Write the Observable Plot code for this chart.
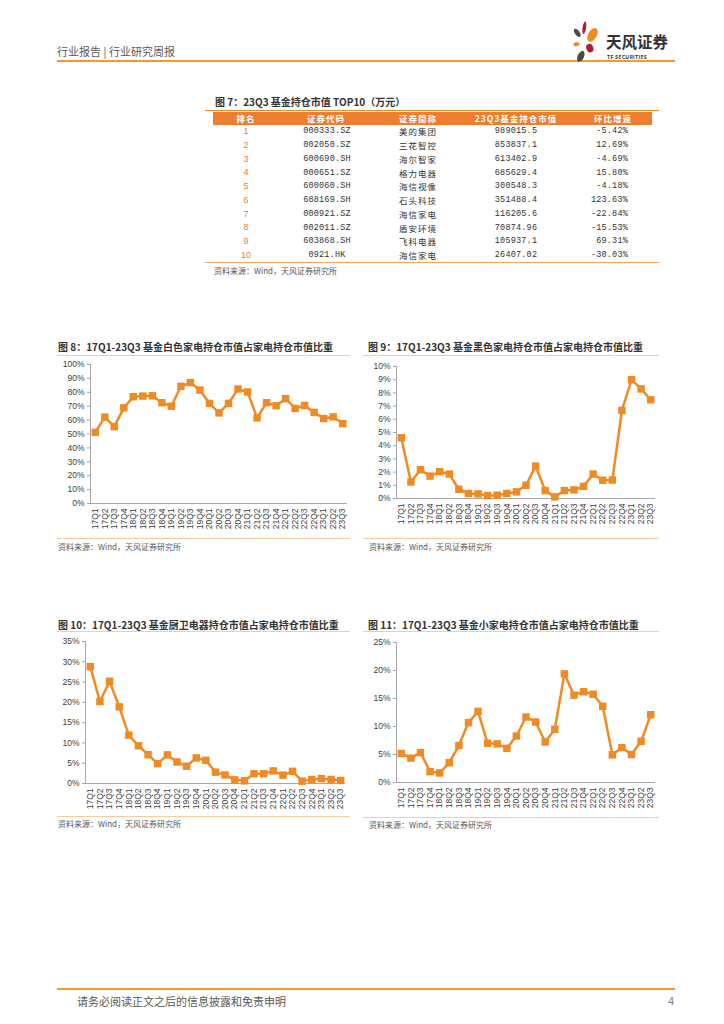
<!DOCTYPE html>
<html><head><meta charset="utf-8">
<script src="https://cdn.jsdelivr.net/npm/d3@7"></script>
<script src="https://cdn.jsdelivr.net/npm/@observablehq/plot@0.6"></script>
<style>
body{margin:0;background:#fff;}
#page{position:relative;width:724px;height:1024px;overflow:hidden;font-family:"Noto Sans CJK SC","Noto Sans",sans-serif;color:#333;background:#fff;}
.t{position:absolute;white-space:nowrap;line-height:1;}
.hl{position:absolute;}
.chart{position:absolute;}
</style></head><body><div id="page"></div>
<script>
// ---------- data ----------
const quarters = ["17Q1","17Q2","17Q3","17Q4","18Q1","18Q2","18Q3","18Q4","19Q1","19Q2","19Q3","19Q4","20Q1","20Q2","20Q3","20Q4","21Q1","21Q2","21Q3","21Q4","22Q1","22Q2","22Q3","22Q4","23Q1","23Q2","23Q3"];
const whiteShare = [51.2,62.1,55.3,68.8,76.8,77.3,77.5,72.5,70.0,84.3,87.0,81.6,72.0,65.2,72.0,82.4,80.2,61.6,72.5,70.3,75.4,68.4,70.5,65.5,61.1,62.3,57.5];
const blackShare = [4.6,1.25,2.18,1.7,2.03,1.85,0.7,0.38,0.35,0.22,0.25,0.38,0.5,1.0,2.45,0.6,0.12,0.6,0.65,0.92,1.85,1.38,1.4,6.67,9.0,8.3,7.48];
const kitchenShare = [28.8,20.2,25.2,18.9,11.9,9.3,7.1,4.9,7.05,5.3,4.26,6.3,5.7,2.8,2.1,0.9,0.65,2.4,2.4,3.1,2.05,3.0,0.57,1.0,1.2,1.0,0.75];
const smallShare = [5.18,4.35,5.35,1.94,1.7,3.53,6.6,10.7,12.7,7.0,6.9,6.1,8.3,11.7,10.8,7.24,9.5,19.4,15.6,16.2,15.76,13.6,4.94,6.24,5.0,7.35,12.1];

const tableHeaders = ["排名","证券代码","证券简称","23Q3基金持仓市值","环比增速"];
const ranks = ["1","2","3","4","5","6","7","8","9","10"];
const codes = ["000333.SZ","002050.SZ","600690.SH","000651.SZ","600060.SH","688169.SH","000921.SZ","002011.SZ","603868.SH","0921.HK"];
const names = ["美的集团","三花智控","海尔智家","格力电器","海信视像","石头科技","海信家电","盾安环境","飞科电器","海信家电"];
const holdValues = ["989015.5","853837.1","613402.9","685629.4","300548.3","351488.4","116205.6","70874.96","105937.1","26407.02"];
const growth = ["-5.42%","12.69%","-4.69%","15.80%","-4.18%","123.63%","-22.84%","-15.53%","69.31%","-30.03%"];

// ---------- helpers ----------
const ORANGE = "#F08A24";
const page = document.getElementById("page");
function put(text, x, y, o = {}) {
  const d = document.createElement("div");
  d.className = "t";
  d.textContent = text;
  const size = o.size || 10;
  d.style.fontSize = size + "px";
  d.style.left = x + "px";
  d.style.top = (y - size / 2) + "px";
  if (o.weight) d.style.fontWeight = o.weight;
  if (o.color) d.style.color = o.color;
  if (o.family) d.style.fontFamily = o.family;
  if (o.ls) d.style.letterSpacing = o.ls + "px";
  if (o.anchor === "middle") d.style.transform = "translateX(-50%)";
  if (o.anchor === "end") d.style.transform = "translateX(-100%)";
  page.appendChild(d);
  return d;
}
function hline(x1, x2, y, h, color) {
  const d = document.createElement("div");
  d.className = "hl";
  d.style.left = x1 + "px"; d.style.width = (x2 - x1) + "px";
  d.style.top = y + "px"; d.style.height = h + "px";
  d.style.background = color;
  page.appendChild(d);
}

// ---------- header ----------
put("行业报告 | 行业研究周报", 57, 51, {size: 11, color: "#595959"});
hline(57, 675, 60, 2, "#F39A2B");
const logo = document.createElement("div");
logo.className = "chart";
logo.style.left = "569px"; logo.style.top = "20px";
logo.innerHTML = `<svg width="33" height="43" viewBox="0 0 68 110">
<ellipse cx="13" cy="33" rx="6" ry="12" transform="rotate(-35 13 33)" fill="#4A4A4A"/>
<ellipse cx="31" cy="20" rx="4.5" ry="16" transform="rotate(8 31 20)" fill="#B5173A"/>
<ellipse cx="52" cy="38" rx="11" ry="19" transform="rotate(30 52 38)" fill="#F08A24"/>
<ellipse cx="11" cy="62" rx="8" ry="5" transform="rotate(-10 11 62)" fill="#F08A24"/>
<ellipse cx="45" cy="72" rx="9" ry="11" transform="rotate(-20 45 72)" fill="#B5173A"/>
<ellipse cx="22" cy="93" rx="8" ry="15" transform="rotate(25 22 93)" fill="#4A4A4A"/>
</svg>`;
page.appendChild(logo);
put("天风证券", 606, 42, {size: 15.5, weight: 700, color: "#333"});
put("TF SECURITIES", 607, 56, {size: 5, weight: 700, color: "#333", ls: 0.3});

// ---------- table ----------
put("图 7：23Q3 基金持仓市值 TOP10（万元）", 215, 102, {size: 10, weight: 700, color: "#333"});
hline(205, 659, 110, 1, ORANGE);
hline(213, 652, 112, 13, "#ED7D31");
const colX = [246, 326, 418, 516, 613];
tableHeaders.forEach((h, i) => put(h, colX[i], 118.5, {size: 8.5, color: "#fff", anchor: "middle", weight: 700, ls: 1}));
const rowY0 = 131.5, rowStep = 13.75;
ranks.forEach((r, i) => {
  const y = rowY0 + i * rowStep;
  put(r, 246, y, {size: 9, color: "#ED7D31", anchor: "middle", family: "Liberation Sans, Arial, sans-serif"});
  put(codes[i], 327, y, {size: 8.5, color: "#333", anchor: "middle", family: "Liberation Mono, DejaVu Sans Mono, monospace", ls: 0.2});
  put(names[i], 418, y, {size: 8.5, color: "#333", anchor: "middle", ls: 1});
  put(holdValues[i], 516, y, {size: 8.5, color: "#333", anchor: "middle", family: "Liberation Mono, DejaVu Sans Mono, monospace", ls: 0.2});
  put(growth[i], 628, y, {size: 8.5, color: "#333", anchor: "end", family: "Liberation Mono, DejaVu Sans Mono, monospace", ls: 0.2});
});
hline(205, 659, 262, 1, "#F4A460");
put("资料来源：Wind，天风证券研究所", 214, 271, {size: 8, color: "#595959"});

// ---------- charts ----------
function lineChart(values, yMax, yStep, o) {
  const data = quarters.map((q, i) => ({i, q, v: values[i]}));
  const svg = Plot.plot({
    width: o.width, height: o.height,
    marginLeft: o.mLeft, marginRight: 5, marginTop: o.mTop, marginBottom: o.mBottom,
    style: {fontFamily: "Liberation Sans, Arial, sans-serif", fontSize: "8.5px", color: "#404040", background: "transparent", overflow: "visible"},
    x: {domain: [-0.5, quarters.length - 0.5], axis: null},
    y: {domain: [0, yMax], axis: null},
    marks: [
      Plot.ruleY([0], {stroke: "#A6A6A6"}),
      Plot.ruleX([-0.5], {stroke: "#A6A6A6"}),
      Plot.axisY({ticks: d3.range(0, yMax + 0.001, yStep), tickFormat: d => d + "%", tickSize: 3, tickPadding: 3, stroke: "#A6A6A6", label: null}),
      Plot.axisX({ticks: d3.range(quarters.length), tickFormat: i => quarters[i], tickRotate: -90, tickSize: 0, tickPadding: 5, label: null}),
      Plot.line(data, {x: "i", y: "v", stroke: ORANGE, strokeWidth: 2.5}),
      Plot.dot(data, {x: "i", y: "v", symbol: "square", r: 4.2, fill: ORANGE, stroke: "none"})
    ]
  });
  const wrap = document.createElement("div");
  wrap.className = "chart";
  wrap.style.left = o.left + "px"; wrap.style.top = o.top + "px";
  wrap.appendChild(svg);
  page.appendChild(wrap);
}

// Figure 8
put("图 8：17Q1-23Q3 基金白色家电持仓市值占家电持仓市值比重", 58, 347, {size: 10, weight: 700, color: "#333"});
hline(57, 350, 355, 1, "#F8CBA0");
lineChart(whiteShare, 100, 10, {left: 55, top: 358, width: 297, height: 175, mLeft: 35, mTop: 6, mBottom: 30});
hline(57, 350, 538, 1, "#F8CBA0");
put("资料来源：Wind，天风证券研究所", 58, 547, {size: 8, color: "#595959"});

// Figure 9
put("图 9：17Q1-23Q3 基金黑色家电持仓市值占家电持仓市值比重", 368, 347, {size: 10, weight: 700, color: "#333"});
hline(363, 659, 355, 1, "#F8CBA0");
lineChart(blackShare, 10, 1, {left: 360, top: 358, width: 300, height: 170, mLeft: 36, mTop: 8, mBottom: 30});
hline(363, 659, 538, 1, "#F8CBA0");
put("资料来源：Wind，天风证券研究所", 369, 547, {size: 8, color: "#595959"});

// Figure 10
put("图 10：17Q1-23Q3 基金厨卫电器持仓市值占家电持仓市值比重", 58, 625, {size: 10, weight: 700, color: "#333"});
hline(57, 350, 631, 1, "#F8CBA0");
lineChart(kitchenShare, 35, 5, {left: 55, top: 635, width: 295, height: 178, mLeft: 30, mTop: 6, mBottom: 30});
hline(57, 350, 816, 1, "#F8CBA0");
put("资料来源：Wind，天风证券研究所", 58, 824, {size: 8, color: "#595959"});

// Figure 11
put("图 11：17Q1-23Q3 基金小家电持仓市值占家电持仓市值比重", 368, 625, {size: 10, weight: 700, color: "#333"});
hline(363, 659, 631, 1, "#F8CBA0");
lineChart(smallShare, 25, 5, {left: 360, top: 635, width: 300, height: 177, mLeft: 36, mTop: 7, mBottom: 30});
hline(363, 659, 817, 1, "#F8CBA0");
put("资料来源：Wind，天风证券研究所", 369, 825, {size: 8, color: "#595959"});

// ---------- footer ----------
hline(57, 675, 988, 2, "#F39A2B");
put("请务必阅读正文之后的信息披露和免责申明", 77, 1001, {size: 11, color: "#595959"});
put("4", 668, 1001, {size: 11, color: "#7F7F7F", family: "Liberation Sans, Arial, sans-serif"});
</script></body></html>
